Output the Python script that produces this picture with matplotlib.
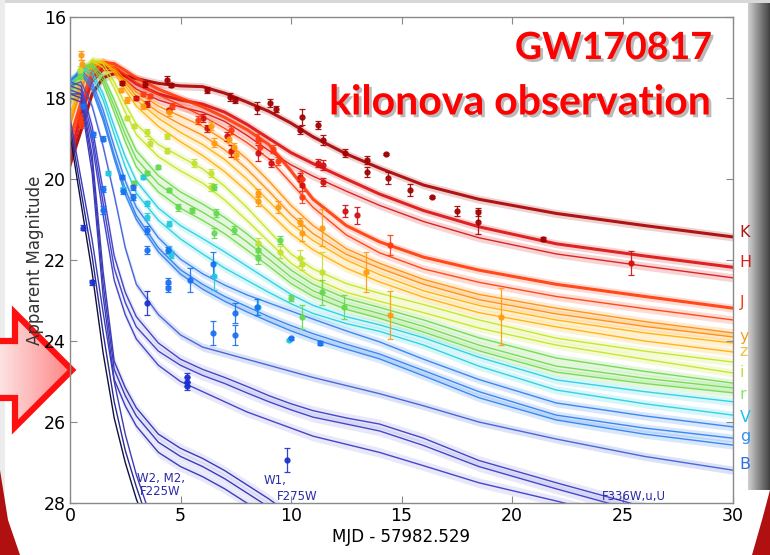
import matplotlib
matplotlib.use('Agg')
import matplotlib.pyplot as plt
import matplotlib.patheffects as pe
from matplotlib.colors import LinearSegmentedColormap
from matplotlib.patches import Polygon, Rectangle
import numpy as np

# ---- model light curves (days since merger, apparent magnitude) ----
t_model = [0, 0.5, 1, 1.5, 2, 2.5, 3, 4, 5, 6, 7, 8, 9, 10, 11, 12.5, 14, 16, 18.5, 22, 26, 30]

K_models = [
    [19.65, 18.8, 17.9, 17.5, 17.4, 17.45, 17.52, 17.64, 17.7, 17.72, 17.88, 18.1, 18.33, 18.62, 18.96, 19.38, 19.73, 20.15, 20.5, 20.85, 21.15, 21.43],
]
H_models = [
    [19.5, 18.35, 17.5, 17.25, 17.25, 17.45, 17.65, 17.9, 18.05, 18.15, 18.35, 18.65, 19.0, 19.35, 19.62, 20.0, 20.37, 20.78, 21.18, 21.6, 21.9, 22.18],
    [19.7, 18.55, 17.62, 17.32, 17.32, 17.55, 17.78, 18.05, 18.22, 18.35, 18.58, 18.92, 19.3, 19.65, 19.93, 20.3, 20.65, 21.05, 21.45, 21.85, 22.15, 22.44],
]
J_models = [
    [19.0, 18.1, 17.35, 17.12, 17.15, 17.32, 17.5, 17.78, 18.0, 18.22, 18.48, 18.78, 19.15, 19.8, 20.5, 21.15, 21.55, 21.93, 22.25, 22.6, 22.9, 23.19],
    [19.2, 18.25, 17.45, 17.18, 17.22, 17.42, 17.62, 17.92, 18.18, 18.45, 18.75, 19.1, 19.5, 20.1, 20.7, 21.38, 21.82, 22.22, 22.55, 22.9, 23.2, 23.48],
]
y_models = [
    [18.6, 17.75, 17.2, 17.1, 17.25, 17.55, 17.85, 18.2, 18.45, 18.7, 19.05, 19.5, 20.05, 20.65, 21.15, 21.72, 22.08, 22.48, 22.85, 23.19, 23.52, 23.8],
    [18.7, 17.8, 17.22, 17.12, 17.3, 17.62, 17.95, 18.35, 18.65, 18.92, 19.28, 19.75, 20.3, 20.88, 21.35, 21.86, 22.2, 22.6, 22.98, 23.33, 23.64, 23.9],
]
z_models = [
    [18.5, 17.65, 17.15, 17.1, 17.32, 17.7, 18.05, 18.5, 18.85, 19.15, 19.52, 20.0, 20.55, 21.1, 21.52, 22.0, 22.36, 22.76, 23.12, 23.48, 23.8, 24.05],
    [18.4, 17.55, 17.1, 17.1, 17.38, 17.8, 18.2, 18.7, 19.08, 19.42, 19.82, 20.3, 20.82, 21.35, 21.75, 22.2, 22.54, 22.92, 23.3, 23.65, 24.0, 24.27],
]
i_models = [
    [18.2, 17.4, 17.05, 17.15, 17.6, 18.15, 18.65, 19.15, 19.45, 19.75, 20.18, 20.7, 21.28, 21.85, 22.22, 22.58, 22.82, 23.1, 23.48, 23.93, 24.25, 24.52],
    [18.1, 17.35, 17.08, 17.25, 17.75, 18.35, 18.9, 19.45, 19.8, 20.1, 20.52, 21.02, 21.55, 22.08, 22.45, 22.8, 23.02, 23.3, 23.68, 24.1, 24.45, 24.79],
]
r_models = [
    [17.9, 17.25, 17.15, 17.45, 18.05, 18.72, 19.3, 19.92, 20.32, 20.62, 20.95, 21.35, 21.8, 22.25, 22.6, 22.95, 23.17, 23.48, 23.92, 24.42, 24.75, 25.04],
    [17.85, 17.25, 17.2, 17.55, 18.2, 18.9, 19.5, 20.12, 20.52, 20.82, 21.15, 21.55, 21.98, 22.42, 22.76, 23.1, 23.32, 23.64, 24.1, 24.62, 24.92, 25.16],
    [17.8, 17.25, 17.25, 17.65, 18.35, 19.08, 19.7, 20.32, 20.72, 21.02, 21.35, 21.75, 22.15, 22.58, 22.9, 23.22, 23.44, 23.78, 24.24, 24.77, 25.05, 25.28],
]
V_models = [
    [17.7, 17.22, 17.35, 17.9, 18.7, 19.45, 20.05, 20.72, 21.15, 21.47, 21.8, 22.15, 22.5, 22.85, 23.12, 23.4, 23.6, 23.92, 24.4, 24.96, 25.25, 25.5],
    [17.65, 17.25, 17.45, 18.05, 18.9, 19.7, 20.35, 21.02, 21.48, 21.85, 22.2, 22.5, 22.8, 23.08, 23.32, 23.57, 23.76, 24.1, 24.62, 25.21, 25.55, 25.83],
]
g_models = [
    [17.6, 17.3, 17.6, 18.3, 19.2, 20.05, 20.7, 21.45, 21.98, 22.34, 22.62, 22.86, 23.06, 23.26, 23.46, 23.75, 24.02, 24.45, 24.95, 25.53, 25.85, 26.12],
    [17.55, 17.35, 17.7, 18.45, 19.4, 20.25, 20.9, 21.7, 22.24, 22.6, 22.9, 23.15, 23.4, 23.62, 23.82, 24.08, 24.32, 24.73, 25.25, 25.83, 26.15, 26.4],
    [17.55, 17.4, 17.8, 18.55, 19.5, 20.38, 21.0, 21.8, 22.35, 22.72, 23.02, 23.28, 23.52, 23.75, 23.95, 24.2, 24.44, 24.86, 25.4, 25.95, 26.3, 26.57],
]
B_models = [
    [17.7, 17.6, 18.2, 19.2, 20.4, 21.7, 22.6, 23.35, 23.85, 24.15, 24.3, 24.45, 24.6, 24.75, 24.9, 25.1, 25.3, 25.6, 26.0, 26.42, 26.85, 27.19],
]
U_models = [
    [17.6, 17.7, 18.7, 20.3, 21.9, 22.8, 23.4, 24.05, 24.45, 24.7, 24.9, 25.12, 25.35, 25.55, 25.72, 25.9, 26.05, 26.4, 26.95, 27.5, 28.1, 28.6],
    [17.7, 17.8, 18.9, 20.6, 22.2, 23.05, 23.65, 24.25, 24.6, 24.85, 25.05, 25.28, 25.5, 25.7, 25.88, 26.05, 26.22, 26.58, 27.1, 27.65, 28.25, 28.8],
    [17.8, 17.9, 19.1, 20.9, 22.5, 23.35, 23.95, 24.6, 25.0, 25.25, 25.5, 25.75, 25.95, 26.15, 26.35, 26.55, 26.75, 27.08, 27.5, 27.95, 28.5, 29.0],
]

t_w1 = [0, 0.5, 1, 1.5, 2, 2.5, 3, 4, 5, 6, 7, 8, 9, 10]
W1_models = [
    [17.9, 17.9, 19.4, 22.3, 24.5, 25.15, 25.65, 26.3, 26.65, 26.9, 27.2, 27.55, 27.9, 28.3],
    [17.9, 18.0, 19.6, 22.6, 24.7, 25.35, 25.85, 26.5, 26.85, 27.1, 27.4, 27.75, 28.1, 28.5],
    [18.0, 18.1, 19.85, 22.9, 24.95, 25.6, 26.1, 26.75, 27.1, 27.35, 27.65, 28.0, 28.35, 28.7],
]

t_w2 = [0, 0.5, 1, 1.5, 2, 2.5, 3, 3.5]
W2_models = [
    [18.9, 20.6, 22.3, 24.3, 25.9, 27.0, 27.9, 28.6],
    [18.7, 20.3, 21.9, 23.8, 25.5, 26.7, 27.6, 28.4],
    [18.5, 20.0, 21.5, 23.3, 25.0, 26.3, 27.3, 28.1],
]

# ---- photometry (t, mag, error) ----
K_t = [2.35, 3.4, 4.4, 4.55, 6.2, 7.25, 7.45, 8.45, 9.05, 9.3, 10.4, 10.5, 11.2, 11.45, 12.45, 13.45, 13.45, 14.3, 14.4, 15.4, 16.4, 17.5, 18.45, 18.45, 21.4]
K_m = [17.62, 17.65, 17.56, 17.68, 17.8, 17.98, 18.05, 18.25, 18.12, 18.27, 18.79, 18.47, 18.67, 19.04, 19.36, 19.53, 19.83, 19.38, 19.98, 20.27, 20.44, 20.79, 20.81, 21.06, 21.48]
K_e = [0.05, 0.08, 0.1, 0.06, 0.08, 0.1, 0.08, 0.15, 0.1, 0.08, 0.1, 0.2, 0.1, 0.12, 0.1, 0.1, 0.12, 0.02, 0.15, 0.15, 0.02, 0.12, 0.1, 0.3, 0.05]

H_t = [3.0, 3.5, 4.5, 6.0, 6.2, 7.1, 7.3, 8.5, 9.1, 10.4, 10.5, 11.2, 11.45, 11.45, 12.45, 13.0, 25.4]
H_m = [18.0, 18.15, 18.3, 18.5, 18.75, 18.95, 19.3, 19.35, 19.6, 19.95, 20.15, 19.6, 19.65, 20.08, 20.8, 20.9, 22.07]
H_e = [0.05, 0.08, 0.05, 0.1, 0.08, 0.1, 0.15, 0.2, 0.1, 0.1, 0.15, 0.1, 0.12, 0.1, 0.15, 0.2, 0.3]

J_t = [0.45, 0.5, 3.3, 3.6, 4.6, 5.8, 7.3, 8.5, 8.6, 9.2, 9.4, 10.5, 10.5, 14.5]
J_m = [18.5, 18.65, 17.9, 17.95, 18.2, 18.55, 18.8, 19.0, 19.2, 19.25, 19.55, 20.0, 20.45, 21.63]
J_e = [0.1, 0.08, 0.05, 0.05, 0.08, 0.1, 0.1, 0.1, 0.15, 0.1, 0.1, 0.2, 0.15, 0.25]

yz_t = [0.5, 0.55, 2.3, 2.6, 3.3, 4.5, 6.4, 6.5, 7.2, 7.4, 7.5, 8.5, 8.5, 9.4, 10.4, 10.5, 11.4, 13.4, 14.5, 19.5]
yz_m = [16.95, 17.15, 17.8, 18.05, 18.2, 18.35, 18.7, 19.1, 19.0, 19.2, 19.4, 20.35, 20.55, 20.7, 21.06, 21.33, 21.2, 22.3, 23.36, 23.4]
yz_e = [0.1, 0.08, 0.05, 0.08, 0.06, 0.1, 0.1, 0.12, 0.08, 0.08, 0.1, 0.1, 0.12, 0.15, 0.1, 0.2, 0.45, 0.5, 0.6, 0.7]

i_t = [0.45, 2.6, 2.9, 3.5, 3.6, 4.4, 4.4, 5.6, 6.4, 6.4, 8.5, 9.5, 10.4, 10.5, 11.4]
i_m = [17.3, 18.5, 18.7, 18.85, 19.1, 18.95, 19.3, 19.6, 19.85, 20.2, 21.58, 21.8, 21.95, 22.1, 22.3]
i_e = [0.08, 0.05, 0.05, 0.08, 0.08, 0.06, 0.06, 0.1, 0.1, 0.1, 0.12, 0.15, 0.2, 0.15, 0.5]

r_t = [0.45, 2.9, 3.5, 4.0, 4.5, 4.9, 5.5, 6.5, 6.6, 6.5, 7.4, 8.5, 8.5, 9.5, 10.0, 10.5, 11.4, 12.4]
r_m = [17.45, 20.1, 19.85, 19.7, 20.27, 20.7, 20.77, 20.2, 20.84, 21.33, 21.26, 21.75, 21.95, 21.5, 22.94, 23.4, 22.8, 23.16]
r_e = [0.08, 0.05, 0.05, 0.05, 0.06, 0.08, 0.06, 0.08, 0.1, 0.12, 0.1, 0.12, 0.15, 0.1, 0.08, 0.3, 0.3, 0.3]

V_t = [1.7, 2.4, 3.3, 3.5, 3.5, 4.5, 4.5, 4.55, 6.5, 8.5, 9.9]
V_m = [19.85, 20.25, 19.95, 20.6, 20.93, 21.1, 21.75, 21.87, 22.4, 23.16, 23.98]
V_e = [0.05, 0.05, 0.05, 0.06, 0.08, 0.06, 0.1, 0.08, 0.35, 0.2, 0.03]

g_t = [0.6, 1.05, 1.5, 1.5, 1.5, 2.35, 2.4, 2.85, 2.85, 3.5, 3.5, 4.45, 4.45, 4.45, 5.45, 6.45, 6.45, 7.45, 7.45, 8.45, 10.0, 11.3]
g_m = [18.2, 18.9, 19.0, 20.25, 20.77, 19.95, 20.3, 20.2, 20.44, 21.26, 21.75, 21.75, 22.54, 22.7, 22.5, 22.1, 23.8, 23.3, 23.85, 23.16, 23.93, 24.05]
g_e = [0.05, 0.06, 0.06, 0.08, 0.1, 0.06, 0.08, 0.06, 0.08, 0.1, 0.1, 0.08, 0.1, 0.1, 0.3, 0.3, 0.3, 0.25, 0.25, 0.2, 0.04, 0.05]

uv_t = [0.6, 1.0, 3.5, 5.3, 5.3, 5.3, 9.8]
uv_m = [21.2, 22.55, 23.06, 24.9, 25.0, 25.1, 26.94]
uv_e = [0.06, 0.06, 0.3, 0.1, 0.1, 0.1, 0.3]

# right-hand band labels
band_names = ['K', 'H', 'J', 'y', 'z', 'i', 'r', 'V', 'g', 'B']
band_label_mag = [21.31, 22.07, 23.06, 23.88, 24.25, 24.79, 25.31, 25.88, 26.35, 27.06]

# ---- styling ----
band_models = [K_models, H_models, J_models, y_models, z_models,
               i_models, r_models, V_models, g_models, B_models]
line_colors = ['#a80000', '#dc1010', '#ff3a0a', '#ff8c00', '#ffb000',
               '#c6e41e', '#6ed84a', '#22cfe0', '#2a7ef0', '#3a5ad8']
label_colors = ['#b01818', '#d82020', '#f04018', '#f0a020', '#f0c040',
                '#c0e040', '#90e070', '#20c0e8', '#3090f0', '#3070e0']
thick_first = [True, True, True, False, False, False, False, False, False, False]

fig = plt.figure(figsize=(7.7, 5.55), dpi=100)
fig.patch.set_facecolor('white')

# slide decorations, drawn in pixel coordinates
bg = fig.add_axes([0, 0, 1, 1], zorder=0)
bg.set_xlim(0, 770)
bg.set_ylim(555, 0)
bg.axis('off')

strip = np.linspace(0, 1, 64).reshape(1, -1)
bg.imshow(strip, cmap='Greys', vmin=-0.6, vmax=1.4, extent=(748, 770, 490, 0),
          aspect='auto', zorder=1)
bg.add_patch(Rectangle((0, 0), 770, 3, color='#d8d8d8', lw=0, zorder=1))
bg.add_patch(Rectangle((0, 0), 5, 555, color='#ececec', lw=0, zorder=1))

arrow_xy = [(-5, 341), (15, 341), (15, 313), (72, 370), (15, 427), (15, 398), (-5, 398)]
pinkfade = LinearSegmentedColormap.from_list('pinkfade', ['#fde8e8', '#ff8484'])
grad = bg.imshow(np.linspace(0, 1, 64).reshape(1, -1), cmap=pinkfade,
                 extent=(-5, 72, 427, 313), aspect='auto', zorder=2)
grad.set_clip_path(Polygon(arrow_xy, closed=True, transform=bg.transData))
bg.add_patch(Polygon(arrow_xy, closed=True, facecolor='none', edgecolor='#ff1010',
                     lw=4.5, joinstyle='miter', zorder=3))

bg.add_patch(Polygon([(0, 470), (8, 520), (20, 555), (0, 555)], closed=True,
                     facecolor='#b01010', lw=0, zorder=2))
bg.add_patch(Polygon([(770, 490), (762, 520), (752, 555), (770, 555)], closed=True,
                     facecolor='#b01010', lw=0, zorder=2))

ax = fig.add_axes([70 / 770, 1 - 503 / 555, 663 / 770, 486 / 555], zorder=2)
ax.set_facecolor('none')

# optical / infrared models
for models, lc, thick in zip(band_models, line_colors, thick_first):
    for k, mags in enumerate(models):
        m = np.array(mags)
        ax.fill_between(t_model, m - 0.1, m + 0.1, color=lc, alpha=0.18, lw=0)
        lw = 2.2 if (thick and k == 0) else 1.0
        ax.plot(t_model, m, color=lc, lw=lw, alpha=0.9)

# ultraviolet models
for mags in U_models:
    m = np.array(mags)
    ax.fill_between(t_model, m - 0.12, m + 0.12, color='#6a6ae0', alpha=0.15, lw=0)
    ax.plot(t_model, m, color='#4646c8', lw=1.0)
for mags in W1_models:
    m = np.array(mags)
    ax.fill_between(t_w1, m - 0.12, m + 0.12, color='#6a6ae0', alpha=0.15, lw=0)
    ax.plot(t_w1, m, color='#3c3cb8', lw=1.0)
for k, mags in enumerate(W2_models):
    ax.plot(t_w2, mags, color=['#101040', '#2a2a90', '#3c3cb8'][k], lw=1.0)

# photometry
points = [(K_t, K_m, K_e, '#a00000'), (H_t, H_m, H_e, '#d01010'),
          (J_t, J_m, J_e, '#ff3a10'), (yz_t, yz_m, yz_e, '#ff9a10'),
          (i_t, i_m, i_e, '#c4e030'), (r_t, r_m, r_e, '#66d850'),
          (V_t, V_m, V_e, '#20c8e0'), (g_t, g_m, g_e, '#1a70f0'),
          (uv_t, uv_m, uv_e, '#1a30d0')]
for pt, pm, perr, pc in points:
    ax.errorbar(pt, pm, yerr=perr, fmt='o', ms=3.5, color=pc, ecolor=pc,
                elinewidth=0.9, capsize=2.5, capthick=0.9, alpha=0.9, zorder=4)

ax.set_xlim(0, 30)
ax.set_ylim(28, 16)
ax.set_xticks([0, 5, 10, 15, 20, 25, 30])
ax.set_yticks([16, 18, 20, 22, 24, 26, 28])
ax.tick_params(direction='in', top=True, right=True, length=5, width=0.8,
               color='#888888', labelsize=12.5, pad=3)
for sp in ax.spines.values():
    sp.set_color('#8a8a8a')
    sp.set_linewidth(1.0)
ax.set_xlabel('MJD - 57982.529', fontsize=12, labelpad=2)
ax.set_ylabel('Apparent Magnitude', fontsize=12, color='#333333', labelpad=0)

for name, mag, lc in zip(band_names, band_label_mag, label_colors):
    ax.text(30.3, mag, name, color=lc, fontsize=11.5, ha='left', va='center',
            clip_on=False)

uv_color = '#2a2aa8'
ax.text(4.1, 27.55, 'W2, M2,\nF225W', color=uv_color, fontsize=8.5, ha='center',
        va='center', linespacing=1.0)
ax.text(8.75, 27.45, 'W1,', color=uv_color, fontsize=8.5, ha='left', va='center')
ax.text(10.3, 27.85, 'F275W', color=uv_color, fontsize=8.5, ha='center', va='center')
ax.text(25.5, 27.83, 'F336W,u,U', color=uv_color, fontsize=8.5, ha='center', va='center')

shadow = [pe.withSimplePatchShadow(offset=(2, -2), shadow_rgbFace='#777777', alpha=0.5)]
fig.text(712 / 770, 1 - 48 / 555, 'GW170817', color='#ff0000', fontsize=27,
         fontweight='bold', family='Lato', ha='right', va='center', path_effects=shadow,
         zorder=5)
fig.text(712 / 770, 1 - 103 / 555, 'kilonova observation', color='#ff0000', fontsize=29.5,
         fontweight='bold', family='Lato', ha='right', va='center', path_effects=shadow,
         zorder=5)

fig.savefig('out.png', dpi=100)
